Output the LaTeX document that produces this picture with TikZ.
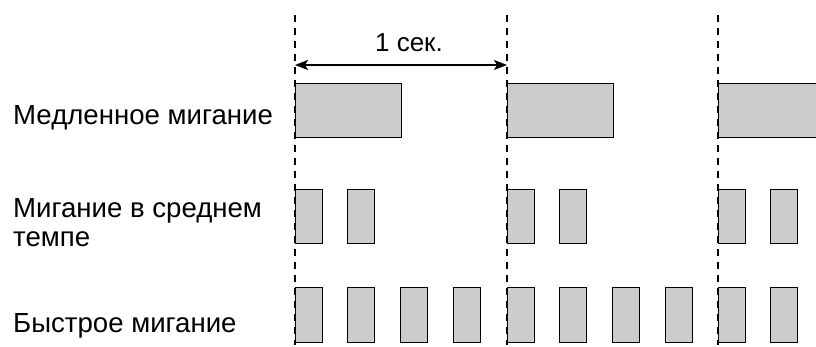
\documentclass[tikz,border=0pt]{standalone}
\usepackage{fontspec}
\setmainfont{Liberation Sans}
\usetikzlibrary{arrows.meta}
\definecolor{boxgray}{RGB}{204,204,204}
\tikzset{
  pulse/.style={draw=black, line width=1pt, fill=boxgray},
  guide/.style={draw=black, line width=2.5pt, dash pattern=on 7pt off 6pt},
  lbl/.style={inner sep=0pt, anchor=base west, font=\fontsize{27.6}{29}\selectfont, align=left},
  seclbl/.style={inner sep=0pt, anchor=base, font=\fontsize{26}{29}\selectfont},
  span/.style={line width=1.6pt, {Stealth[length=13pt,width=10pt,inset=3pt]}-{Stealth[length=13pt,width=10pt,inset=3pt]}}
}
\begin{document}
\begin{tikzpicture}[x=1pt,y=1pt]
\useasboundingbox (0,0) rectangle (816,-347);
% slow pulses
\foreach \p in {295,507,718} {
  \draw[pulse] (\p,-84) rectangle ({\p+106},-138);
}
% medium pulses
\foreach \p in {295,507,718} {
  \foreach \o in {0,52.5} {
    \draw[pulse] ({\p+\o},-190) rectangle ({\p+\o+27},-244);
  }
}
% fast pulses
\foreach \p in {295,507,718} {
  \foreach \o in {0,52.5,105,158} {
    \ifdim \dimexpr\p pt+\o pt\relax<800pt
      \draw[pulse] ({\p+\o},-287) rectangle ({\p+\o+27},-342);
    \fi
  }
}
% dashed guides
\foreach \p/\n in {295/a,507/b,718/c} {
  \coordinate (top\n) at (\p,-15);
  \coordinate (bot\n) at (\p,-345);
  \draw[guide] (top\n) -- (bot\n);
}
% 1 second span
\coordinate (s1) at (295,-65);
\coordinate (s2) at (507,-65);
\draw[span] (s1) -- (s2);
\node[seclbl] (sec) at (409,-52) {1 сек.};
% labels
\node[lbl] (slow) at (13,-125) {Медленное мигание};
\node[lbl] (mid) at (13,-247) {Мигание в среднем\\темпе};
\node[lbl] (fast) at (13,-332) {Быстрое мигание};
\end{tikzpicture}
\end{document}
